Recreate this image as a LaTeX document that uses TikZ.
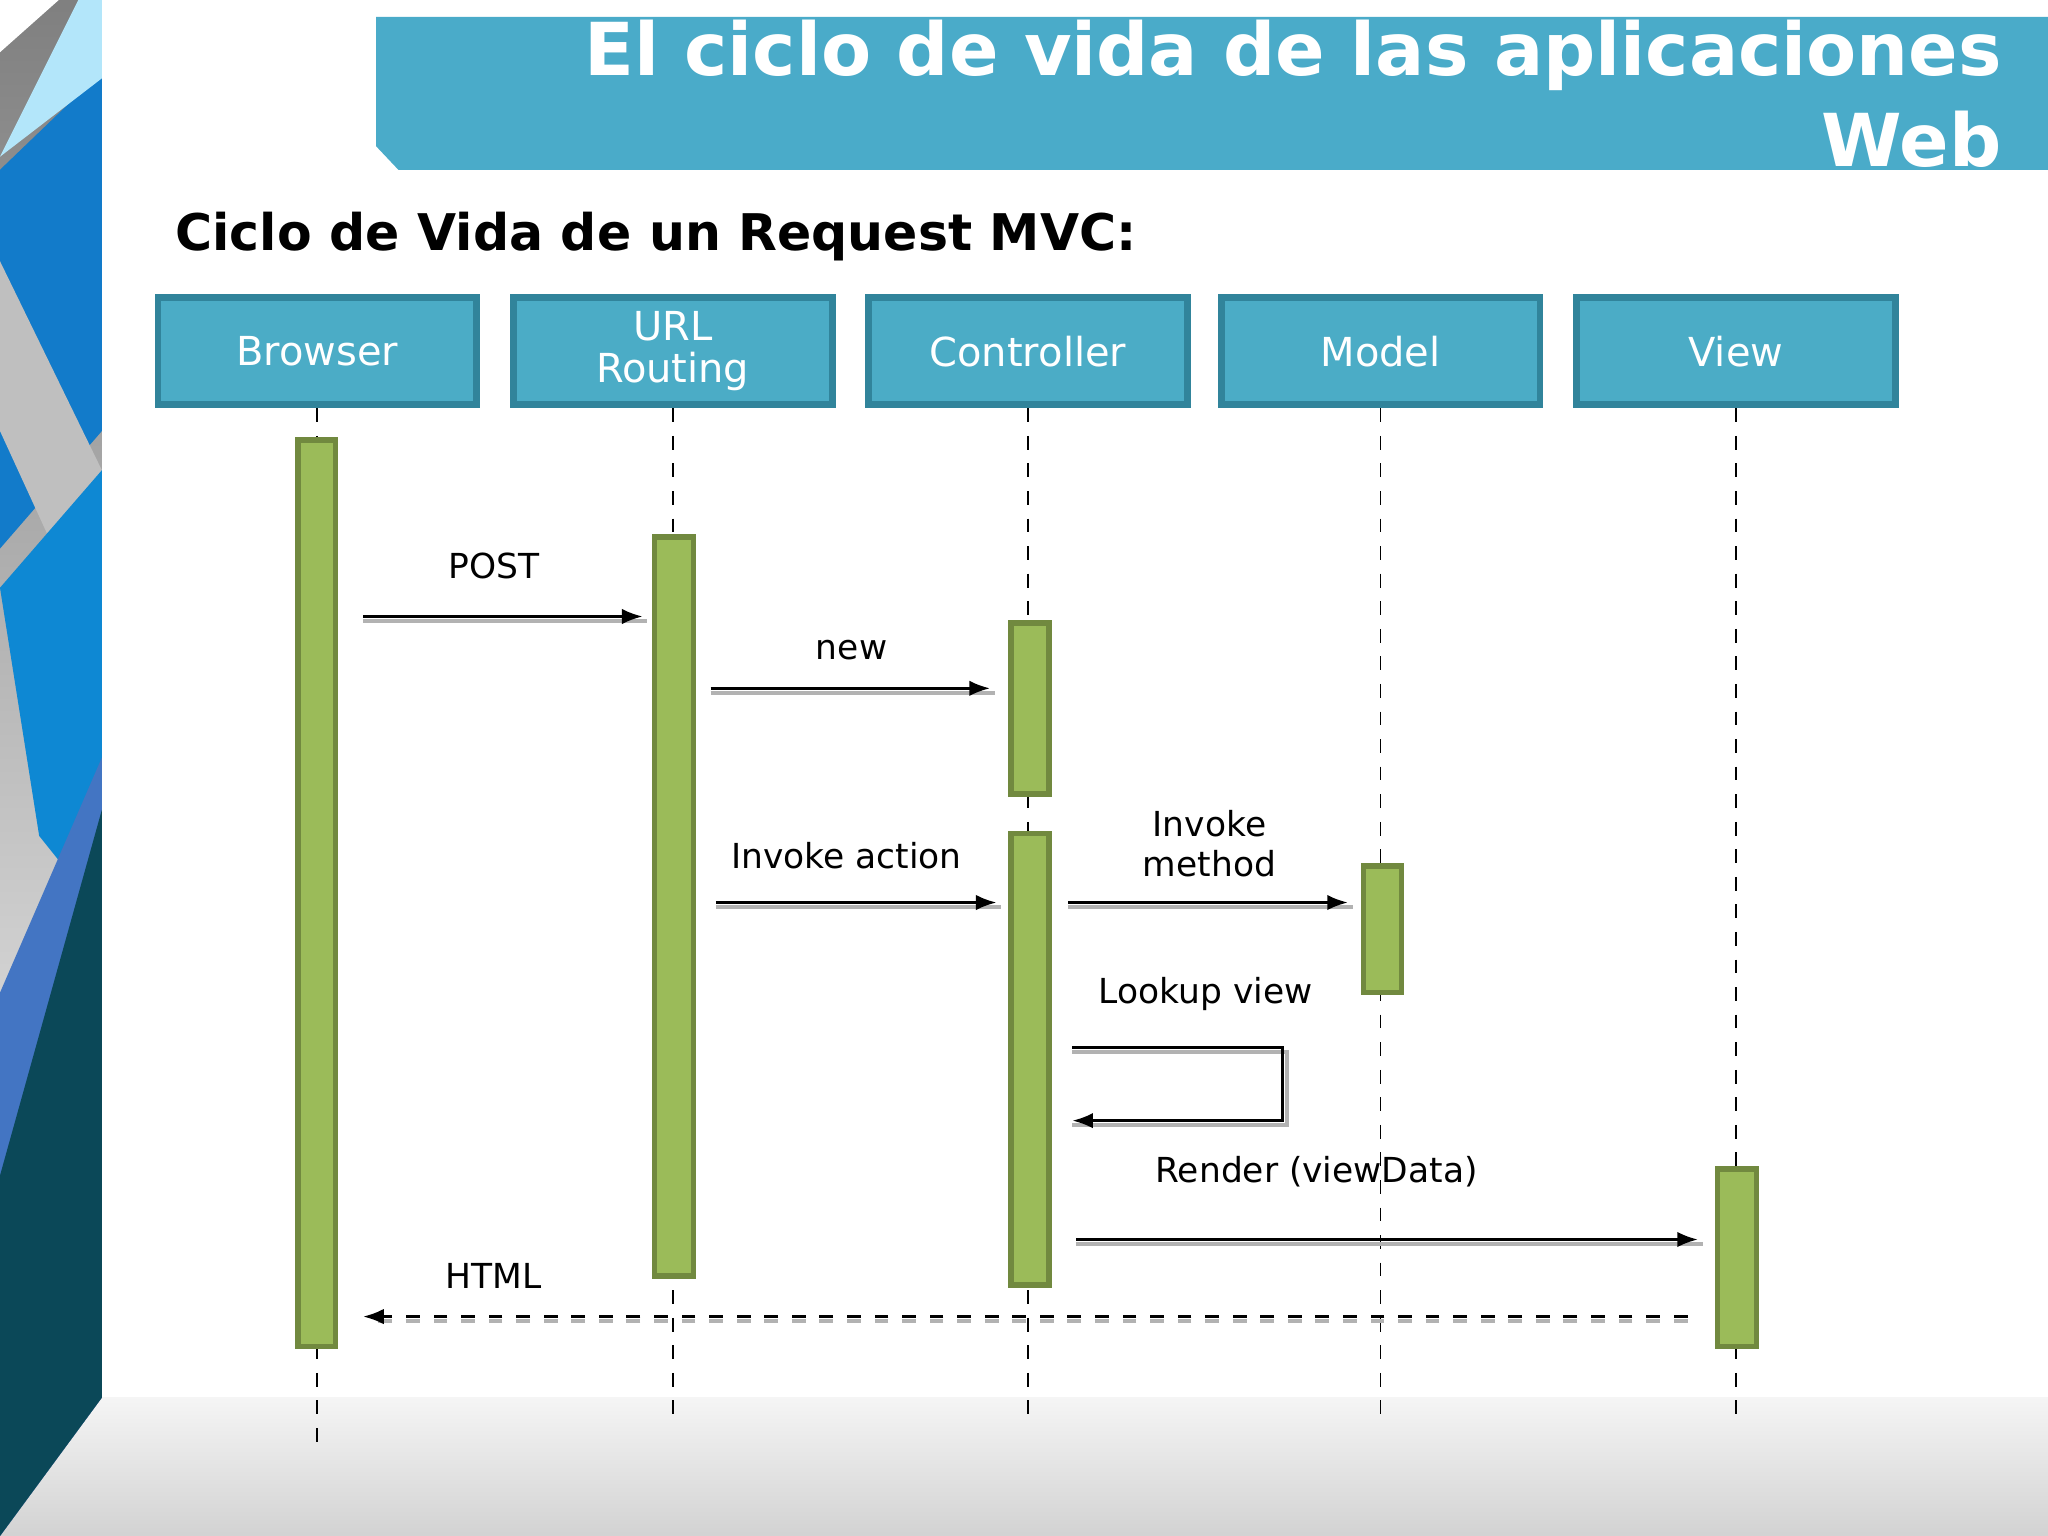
\documentclass[tikz,border=0pt]{standalone}
\usepackage{fontspec}
\setmainfont{DejaVu Sans}
\usetikzlibrary{arrows.meta}
\definecolor{head}{RGB}{75, 172, 198}
\definecolor{headline}{RGB}{49, 132, 155}
\definecolor{bar}{RGB}{155, 187, 89}
\definecolor{barline}{RGB}{113, 137, 63}
\definecolor{banner}{RGB}{74, 171, 201}
\definecolor{shade}{RGB}{14, 90, 110}

\tikzset{
  lifehead/.style={draw=headline, line width=1.5pt, fill=head, text=white,
    minimum width=2.44cm, minimum height=0.82cm, align=center, inner sep=0pt,
    font=\fontsize{8.7}{9.2}\selectfont},
  activebar/.style={draw=barline, line width=1.2pt, fill=bar},
  lifeline/.style={dashed, thin},
  msg/.style={-{Latex[length=4.5pt]}, line width=0.6pt},
  msgshadow/.style={gray!60, line width=0.8pt},
  msglabel/.style={font=\fontsize{7.5}{8.6}\selectfont, align=center}
}

\begin{document}
\begin{tikzpicture}[x=0.01cm, y=-0.01cm]
  \useasboundingbox (0, 0) rectangle (1568, 1176);

  % Background
  \shade [top color=gray!8, bottom color=gray!35] (0, 1070) rectangle (1568, 1176);
  \fill [shade] (0, 0) -- (78, 0) -- (78, 1070) -- (0, 1176) -- cycle;
  \fill [cyan!60!blue] (0, 130) -- (78, 55) -- (78, 330) -- (0, 420) -- cycle;
  \fill [cyan!30] (0, 120) -- (60, 0) -- (78, 0) -- (78, 60) -- cycle;
  \fill [gray!50] (0, 200) -- (78, 360) -- (78, 500) -- (0, 330) -- cycle;
  \fill [cyan!70!blue] (0, 450) -- (78, 360) -- (78, 700) -- (30, 640) -- cycle;
  \fill [cyan!40!blue!80] (0, 760) -- (78, 580) -- (78, 1070) -- (0, 1176) -- cycle;
  \fill [shade!80!black] (0, 900) -- (78, 620) -- (78, 1070) -- (0, 1176) -- cycle;
  \fill [white] (0, 0) -- (45, 0) -- (0, 40) -- cycle;

  % Title
  \fill [banner] (288, 13) -- (1568, 13) -- (1568, 130) -- (305, 130) -- (288, 112) -- cycle;
  \node [anchor=east, text=white, font=\fontsize{15.9}{18}\bfseries\selectfont] (title1) at (1545, 42) {El ciclo de vida de las aplicaciones};
  \node [anchor=east, text=white, font=\fontsize{15.9}{18}\bfseries\selectfont] (title2) at (1545, 107) {Web};
  \node [anchor=west, font=\fontsize{11}{13}\bfseries\selectfont] (sub) at (122, 181) {Ciclo de Vida de un Request MVC:};

  % Lifelines
  \foreach \name/\x/\txt/\yend in {browser/243/Browser/1105, routing/515/URL\\Routing/1085,
      controller/787/Controller/1085, model/1057/Model/1085, view/1329/View/1085} {
    \node [lifehead] (\name) at (\x, 269) {\txt};
    \draw [lifeline] (\name.south) -- (\x, \yend);
  }

  % Activation bars
  \draw [activebar] (228, 337) rectangle (257, 1031);
  \draw [activebar] (501, 411) rectangle (531, 977);
  \draw [activebar] (774, 477) rectangle (803, 608);
  \draw [activebar] (774, 638) rectangle (803, 984);
  \draw [activebar] (1044, 663) rectangle (1073, 760);
  \draw [activebar] (1315, 895) rectangle (1345, 1031);

  % Messages
  \foreach \xa/\xb/\y in {278/492/472, 544/758/527, 548/763/691, 818/1032/691, 824/1300/949} {
    \coordinate (from) at (\xa, \y);
    \coordinate (to) at (\xb, \y);
    \draw [msgshadow] ([yshift=-1pt]from) -- ([xshift=1pt, yshift=-1pt]to);
    \draw [msg] (from) -- (to);
  }
  \node [msglabel] (post) at (378, 433) {POST};
  \node [msglabel] (new) at (652, 498) {new};
  \node [msglabel] (action) at (648, 655) {Invoke action};
  \node [msglabel] (method) at (926, 646) {Invoke\\method};
  \node [msglabel] (lookup) at (923, 761) {Lookup view};
  \node [msglabel] (render) at (1008, 897) {Render (viewData)};
  \node [msglabel] (html) at (378, 977) {HTML};

  % Lookup view
  \coordinate (l1) at (821, 802);
  \coordinate (l2) at (982, 802);
  \coordinate (l3) at (982, 858);
  \coordinate (l4) at (821, 858);
  \draw [msgshadow] ([yshift=-1pt]l1) -- ([xshift=1pt, yshift=-1pt]l2) -- ([xshift=1pt, yshift=-1pt]l3) -- ([yshift=-1pt]l4);
  \draw [msg] (l1) -- (l2) -- (l3) -- (l4);

  % Response
  \coordinate (r1) at (1292, 1008);
  \coordinate (r2) at (278, 1008);
  \draw [msgshadow, dashed] ([yshift=-1pt]r1) -- ([yshift=-1pt, xshift=2pt]r2);
  \draw [msg, dashed] (r1) -- (r2);
\end{tikzpicture}
\end{document}
